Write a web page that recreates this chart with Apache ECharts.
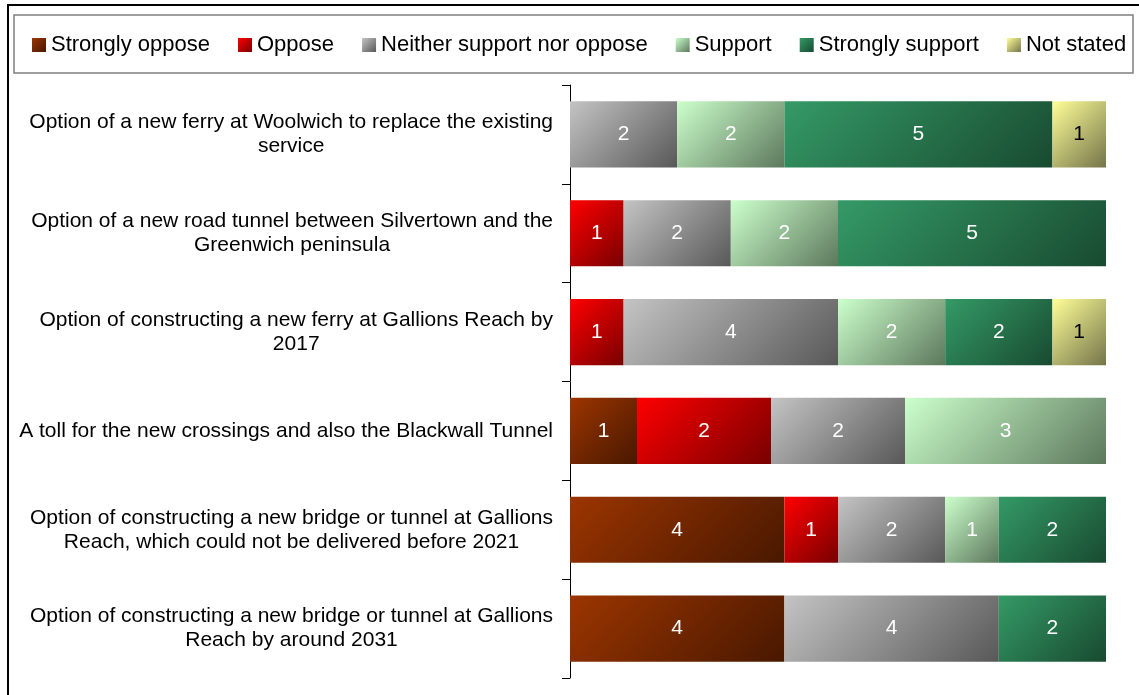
<!DOCTYPE html>
<html>
<head>
<meta charset="utf-8">
<script src="https://cdn.jsdelivr.net/npm/echarts@6/dist/echarts.min.js"></script>
<style>
  html, body { margin: 0; padding: 0; background: #fff; }
  #chart { width: 1139px; height: 695px; }
</style>
</head>
<body>
<div id="chart"></div>
<script>
// Options consulted on, top to bottom (line breaks as laid out beside the axis)
const categories = [
  'Option of a new ferry at Woolwich to replace the existing\nservice',
  'Option of a new road tunnel between Silvertown and the\nGreenwich peninsula',
  'Option of constructing a new ferry at Gallions Reach by\n2017',
  'A toll for the new crossings and also the Blackwall Tunnel',
  'Option of constructing a new bridge or tunnel at Gallions\nReach, which could not be delivered before 2021',
  'Option of constructing a new bridge or tunnel at Gallions\nReach by around 2031'
];

// Number of respondents giving each answer, per option (same order as categories)
const stronglyOppose  = [0, 0, 0, 1, 4, 4];
const oppose          = [0, 1, 1, 2, 1, 0];
const neither         = [2, 2, 4, 2, 2, 4];
const support         = [2, 2, 2, 3, 1, 0];
const stronglySupport = [5, 5, 2, 0, 2, 2];
const notStated       = [1, 0, 1, 0, 0, 0];

const seriesNames = ['Strongly oppose', 'Oppose', 'Neither support nor oppose', 'Support', 'Strongly support', 'Not stated'];
const seriesCounts = [stronglyOppose, oppose, neither, support, stronglySupport, notStated];

// Diagonal shading for each answer: light at top-left, dark at bottom-right
const shades = [
  ['#9c3500', '#481800'],
  ['#ff0000', '#780000'],
  ['#c4c4c4', '#585858'],
  ['#ccffcc', '#5c785c'],
  ['#349a66', '#184a30'],
  ['#ffff99', '#74744a']
];
const labelColors = ['#fff', '#fff', '#fff', '#fff', '#fff', '#000'];

// Plot area geometry
const GRID = { left: 570, right: 33, top: 85, bottom: 17 };
const CHART_W = 1139, CHART_H = 695;
const BAR_RATIO = 0.67;
const plotW = CHART_W - GRID.left - GRID.right;
const barH = (CHART_H - GRID.top - GRID.bottom) / categories.length * BAR_RATIO;

// A 45-degree shade for a segment of the given pixel width
function diag(c0, c1, w, h) {
  w = w || 1; h = h || 1;
  const x2 = (w + h) / (2 * w), y2 = (w + h) / (2 * h);
  return new echarts.graphic.LinearGradient(0, 0, x2, y2, [
    { offset: 0, color: c0 },
    { offset: 1, color: c1 }
  ]);
}

// Each option's answers are shown as shares of its total respondents
const totals = categories.map((_, i) => seriesCounts.reduce((s, arr) => s + arr[i], 0));

const FONT = '"Liberation Sans", Arial, sans-serif';

const series = seriesNames.map((name, k) => ({
  name: name,
  type: 'bar',
  stack: 'all',
  barWidth: (BAR_RATIO * 100) + '%',
  itemStyle: { color: diag(shades[k][0], shades[k][1]) },
  label: {
    show: true,
    position: 'inside',
    color: labelColors[k],
    fontSize: 21,
    fontFamily: FONT,
    formatter: p => (p.data && p.data.count ? String(p.data.count) : '')
  },
  emphasis: { disabled: true },
  data: seriesCounts[k].map((v, i) => {
    if (!v) return { value: null, count: 0 };
    const pct = v / totals[i] * 100;
    return {
      value: pct,
      count: v,
      itemStyle: { color: diag(shades[k][0], shades[k][1], plotW * pct / 100, barH) }
    };
  })
}));

const chart = echarts.init(document.getElementById('chart'), null, { renderer: 'canvas' });
chart.setOption({
  animation: false,
  textStyle: { fontFamily: FONT },
  graphic: [
    {
      type: 'rect', z: -10, silent: true,
      shape: { x: 8, y: 5, width: 1300, height: 900 },
      style: { fill: 'none', stroke: '#000', lineWidth: 2 }
    },
    {
      type: 'rect', z: -10, silent: true,
      shape: { x: 14, y: 15, width: 1119, height: 58 },
      style: { fill: '#fff', stroke: '#7f7f7f', lineWidth: 1.5 }
    }
  ],
  legend: {
    left: 32,
    top: 33,
    padding: 0,
    itemGap: 28,
    itemWidth: 14,
    itemHeight: 14,
    icon: 'rect',
    selectedMode: false,
    textStyle: { fontSize: 22, lineHeight: 24, color: '#000', fontFamily: FONT },
    data: seriesNames
  },
  grid: { left: GRID.left, right: GRID.right, top: GRID.top, bottom: GRID.bottom, containLabel: false },
  xAxis: {
    type: 'value',
    min: 0,
    max: 100,
    show: false
  },
  yAxis: {
    type: 'category',
    inverse: true,
    data: categories,
    axisLine: { show: true, lineStyle: { color: '#000', width: 1 } },
    axisTick: { show: true, length: 8, lineStyle: { color: '#000' } },
    splitLine: { show: false },
    axisLabel: {
      margin: 17,
      formatter: v => v.split('\n').map(l => '{c|' + l + '}').join('\n'),
      rich: {
        c: { align: 'center', fontSize: 21, lineHeight: 24, color: '#000', fontFamily: FONT }
      }
    }
  },
  series: series
});
</script>
</body>
</html>
